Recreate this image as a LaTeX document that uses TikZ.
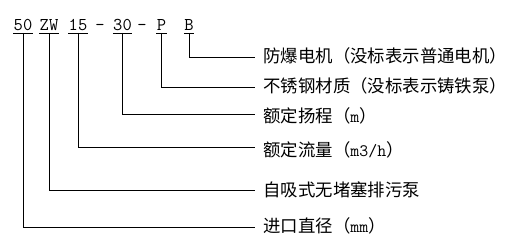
\documentclass[tikz,border=0pt]{standalone}
\usepackage{fontspec}
\newfontfamily\cjk{Noto Sans CJK SC}
\begin{document}
\begin{tikzpicture}[x=1pt, y=-1pt, line width=0.9pt,
  code/.style={font=\fontsize{18}{20}\selectfont\ttfamily, inner sep=0pt, anchor=base},
  lab/.style={font=\fontsize{17.4}{20}\selectfont\cjk, inner sep=0pt, anchor=west}]
  \useasboundingbox (0,0) rectangle (511,243);
  % model code, each part underlined
  \foreach \n/\x/\t in {a/23/50, b/49/ZW, c/78/15, d/122.5/30, e/161.5/P, f/189/B} {
    \node[code] (\n) at (\x,31) {\t};
    \draw ([yshift=-2pt]\n.base west) -- ([yshift=-2pt]\n.base east);
    \coordinate (\n u) at ([yshift=-2pt]\n.base);
  }
  \node[code] (dash1) at (100,31) {-};
  \node[code] (dash2) at (142,31) {-};
  % meanings
  \foreach \n/\y/\t in {f/56/{防爆电机（没标表示普通电机）},
                        e/86/{不锈钢材质（没标表示铸铁泵）},
                        d/116/{额定扬程（{\ttfamily m}）},
                        c/150/{额定流量（{\ttfamily m3/h}）},
                        b/190/{自吸式无堵塞排污泵},
                        a/226/{进口直径（{\ttfamily mm}）}} {
    \node[lab] (\n t) at (263,\y) {\t};
  }
  \foreach \n/\y in {f/57, e/87, d/114, c/147, b/190, a/227} {
    \coordinate (\n e) at (255,\y);
    \draw (\n u) |- (\n e);
  }
\end{tikzpicture}
\end{document}
